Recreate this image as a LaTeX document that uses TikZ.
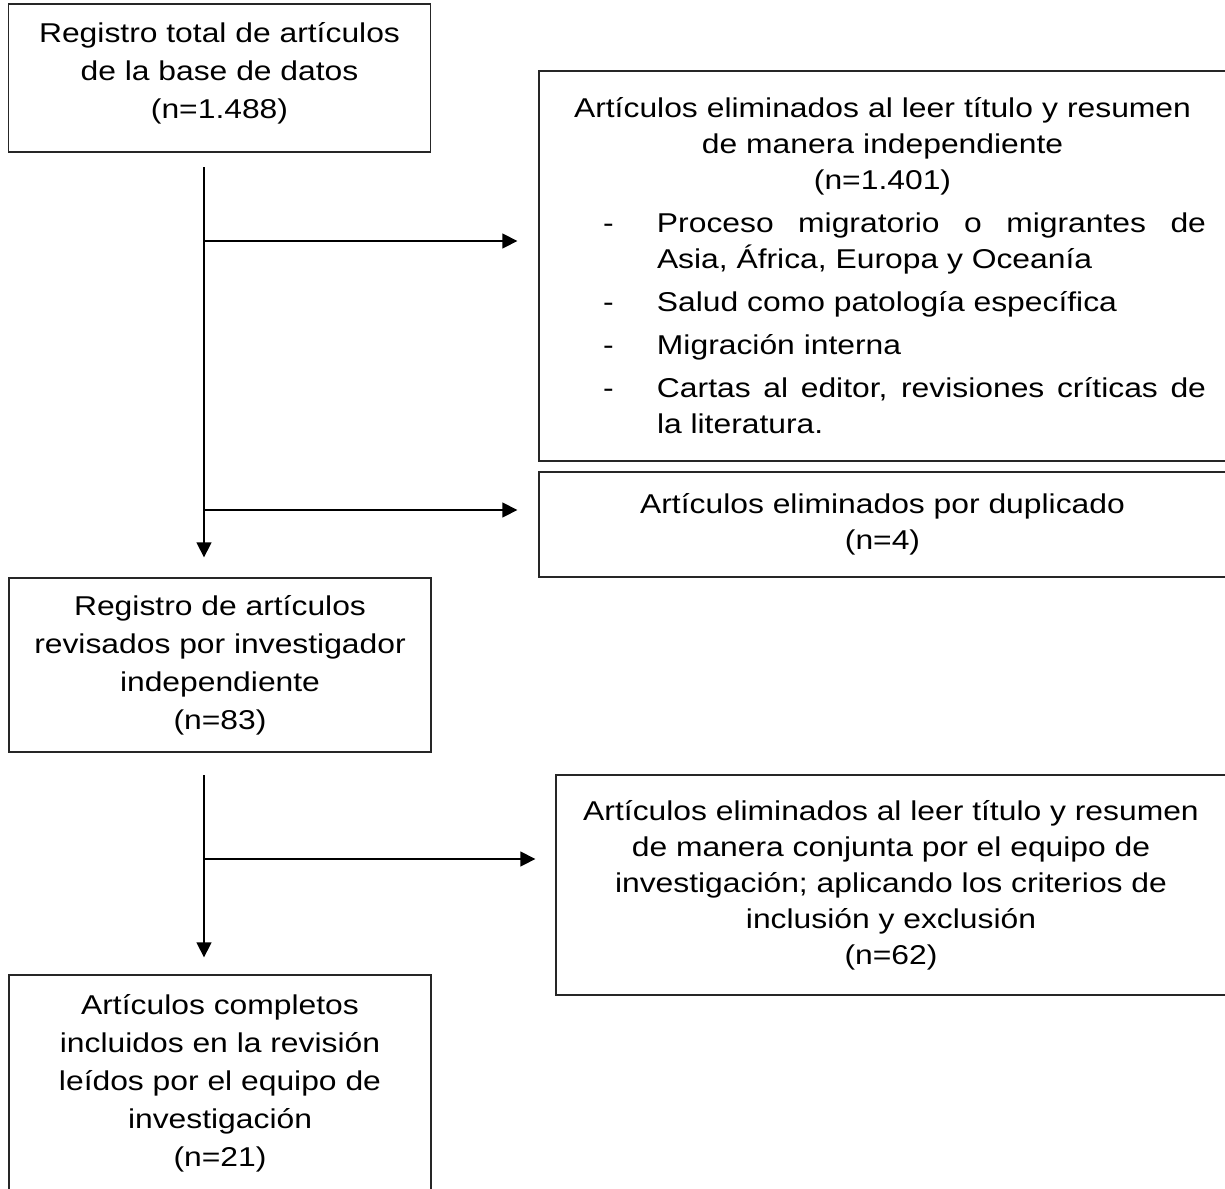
\documentclass[tikz,border=0pt]{standalone}
\usepackage{fontspec}
\setmainfont{Liberation Sans}[FakeStretch=1.17]
\usetikzlibrary{arrows.meta}

\tikzset{
    box/.style={draw=black!85, line width=0.65pt, inner sep=0pt, align=center},
    lbox/.style={box, minimum width=211pt, font=\fontsize{13.6}{19}\selectfont},
    arr/.style={line width=0.65pt, -{Triangle[length=7.5pt, width=7.5pt]}},
}

% one excluded criterion: dash and justified text
\newcommand{\elimitem}[1]{\par\vspace{3.5pt}%
    {\leftskip=59pt \rightskip=10pt \parfillskip=0pt plus 1fil
     \spaceskip=0pt \xspaceskip=0pt \hyphenpenalty=10000
     \noindent\hspace*{-27pt}\makebox[27pt][l]{-}#1\par}}

\begin{document}
\begin{tikzpicture}[x=0.5pt, y=-0.5pt, font=\fontsize{13.6}{18}\selectfont]

    \useasboundingbox (0,0) rectangle (1225,1188);

    % Left column
    \node[lbox, minimum height=74pt, text depth=7.5pt] (total) at (219.5,78)
        {Registro total de artículos\\de la base de datos\\(n=1.488)};
    \node[lbox, minimum height=87pt] (revis) at (220,665)
        {Registro de artículos\\revisados por investigador\\independiente\\(n=83)};
    \node[lbox, minimum height=108.5pt] (incl) at (220,1083.5)
        {Artículos completos\\incluidos en la revisión\\leídos por el equipo de\\investigación\\(n=21)};

    % Right column
    \node[box, text width=343.5pt, minimum height=195pt] (elim1) at (882.5,266) {%
        Artículos eliminados al leer título y resumen\\de manera independiente\\(n=1.401)\par
        \elimitem{Proceso migratorio o migrantes de\linebreak Asia, África, Europa y Oceanía}
        \elimitem{Salud como patología específica}
        \elimitem{Migración interna}
        \elimitem{Cartas al editor, revisiones críticas de\linebreak la literatura.}};
    \node[box, minimum width=343.5pt, minimum height=52.5pt] (dupl) at (882.5,524.5)
        {Artículos eliminados por duplicado\\(n=4)};
    \node[box, minimum width=335pt, minimum height=110pt] (elim2) at (891,885)
        {Artículos eliminados al leer título y resumen\\de manera conjunta por el equipo de\\investigación; aplicando los criterios de\\inclusión y exclusión\\(n=62)};

    % Flow lines
    \coordinate (s1) at (204,167);
    \coordinate (b1) at (204,241);
    \coordinate (b2) at (204,510);
    \coordinate (s2) at (204,775);
    \coordinate (b3) at (204,859);

    \draw[arr, shorten >=10pt] (s1) -- (s1 |- revis.north);
    \draw[arr, shorten >=10.5pt] (b1) -- (b1 -| elim1.west);
    \draw[arr, shorten >=10.5pt] (b2) -- (b2 -| dupl.west);
    \draw[arr, shorten >=8.5pt] (s2) -- (s2 |- incl.north);
    \draw[arr, shorten >=10pt] (b3) -- (b3 -| elim2.west);

\end{tikzpicture}
\end{document}
